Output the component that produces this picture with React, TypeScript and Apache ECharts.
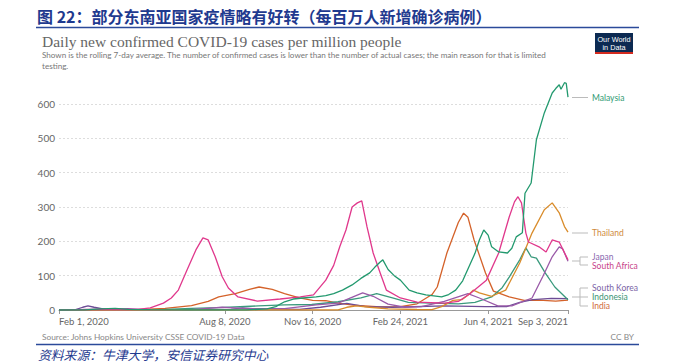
import React, { useEffect, useRef } from "react";
import * as echarts from "echarts";

// ---- data (date, cases per million, 7-day avg) ----
const malaysia: [string, number][] = [
  ["2020-02-01", 0], ["2020-03-01", 0.3], ["2020-03-20", 3], ["2020-04-05", 5], ["2020-04-20", 2],
  ["2020-05-15", 1], ["2020-07-01", 0.3], ["2020-09-01", 0.5], ["2020-09-25", 3], ["2020-10-05", 10],
  ["2020-10-15", 24], ["2020-10-25", 32], ["2020-11-05", 35], ["2020-11-20", 38], ["2020-12-01", 42],
  ["2020-12-10", 48], ["2020-12-20", 58], ["2020-12-31", 73], ["2021-01-10", 92], ["2021-01-20", 108],
  ["2021-01-26", 125], ["2021-02-01", 140], ["2021-02-04", 146], ["2021-02-10", 118], ["2021-02-17", 100],
  ["2021-02-24", 87], ["2021-03-06", 58], ["2021-03-15", 50], ["2021-03-25", 44], ["2021-04-12", 38],
  ["2021-04-20", 45], ["2021-04-28", 58], ["2021-05-06", 85], ["2021-05-13", 125], ["2021-05-20", 165],
  ["2021-05-25", 204], ["2021-05-30", 233], ["2021-06-04", 218], ["2021-06-08", 184], ["2021-06-16", 169],
  ["2021-06-26", 166], ["2021-07-01", 180], ["2021-07-06", 213], ["2021-07-13", 225], ["2021-07-16", 340],
  ["2021-07-23", 370], ["2021-07-29", 496], ["2021-08-07", 574], ["2021-08-16", 632], ["2021-08-20", 645],
  ["2021-08-24", 656], ["2021-08-26", 643], ["2021-08-30", 662], ["2021-09-01", 660], ["2021-09-03", 620],
];
const southAfrica: [string, number][] = [
  ["2020-02-01", 0], ["2020-03-20", 2], ["2020-04-15", 1.5], ["2020-05-01", 2], ["2020-05-15", 6],
  ["2020-05-30", 20], ["2020-06-08", 35], ["2020-06-16", 58], ["2020-06-26", 117], ["2020-07-06", 175],
  ["2020-07-14", 210], ["2020-07-20", 204], ["2020-07-28", 155], ["2020-08-05", 97], ["2020-08-12", 64],
  ["2020-08-23", 38], ["2020-09-14", 26], ["2020-10-10", 32], ["2020-11-02", 38], ["2020-11-17", 44],
  ["2020-12-01", 87], ["2020-12-10", 130], ["2020-12-17", 185], ["2020-12-24", 233], ["2020-12-31", 300],
  ["2021-01-06", 312], ["2021-01-11", 318], ["2021-01-17", 242], ["2021-01-24", 166], ["2021-02-01", 108],
  ["2021-02-08", 58], ["2021-02-24", 35], ["2021-03-15", 23], ["2021-04-15", 20], ["2021-05-01", 25],
  ["2021-05-15", 49], ["2021-06-02", 87], ["2021-06-16", 166], ["2021-06-28", 271], ["2021-07-04", 315],
  ["2021-07-08", 330], ["2021-07-12", 312], ["2021-07-17", 224], ["2021-07-20", 198], ["2021-08-01", 184],
  ["2021-08-09", 169], ["2021-08-16", 204], ["2021-08-24", 198], ["2021-09-03", 146],
];
const thailand: [string, number][] = [
  ["2020-02-01", 0], ["2020-04-01", 1], ["2020-05-01", 0.5], ["2020-12-15", 0.5], ["2020-12-25", 8],
  ["2021-01-05", 12], ["2021-01-20", 8], ["2021-02-10", 3], ["2021-03-15", 1.5], ["2021-04-01", 1],
  ["2021-04-12", 10], ["2021-04-25", 28], ["2021-05-05", 30], ["2021-05-13", 45], ["2021-05-18", 58],
  ["2021-05-25", 50], ["2021-06-08", 40], ["2021-06-24", 58], ["2021-07-10", 137], ["2021-07-24", 224],
  ["2021-08-07", 292], ["2021-08-16", 312], ["2021-08-24", 283], ["2021-08-30", 243], ["2021-09-03", 227],
];
const india: [string, number][] = [
  ["2020-02-01", 0], ["2020-04-01", 0.1], ["2020-05-01", 1], ["2020-06-01", 5], ["2020-07-01", 13],
  ["2020-07-20", 25], ["2020-08-01", 38], ["2020-08-20", 48], ["2020-09-05", 60], ["2020-09-16", 67],
  ["2020-10-01", 60], ["2020-10-15", 48], ["2020-11-01", 35], ["2020-11-16", 28], ["2020-12-01", 27],
  ["2020-12-15", 20], ["2021-01-01", 14], ["2021-02-01", 9], ["2021-02-24", 10], ["2021-03-15", 18],
  ["2021-04-01", 45], ["2021-04-07", 67], ["2021-04-18", 166], ["2021-05-01", 255], ["2021-05-07", 282],
  ["2021-05-12", 270], ["2021-05-19", 204], ["2021-06-01", 108], ["2021-06-10", 55], ["2021-06-28", 38],
  ["2021-07-15", 28], ["2021-08-01", 29], ["2021-08-20", 26], ["2021-09-03", 29],
];
const indonesia: [string, number][] = [
  ["2020-02-01", 0], ["2020-04-15", 1], ["2020-06-01", 2], ["2020-07-01", 5], ["2020-08-01", 7],
  ["2020-09-15", 12], ["2020-10-15", 15], ["2020-11-15", 16], ["2020-12-15", 24], ["2021-01-10", 35],
  ["2021-01-28", 48], ["2021-02-15", 35], ["2021-03-05", 22], ["2021-04-01", 20], ["2021-05-01", 18],
  ["2021-05-20", 22], ["2021-06-08", 38], ["2021-06-20", 65], ["2021-06-28", 96], ["2021-07-10", 146],
  ["2021-07-17", 181], ["2021-07-23", 155], ["2021-07-29", 151], ["2021-08-08", 108], ["2021-08-19", 67],
  ["2021-09-03", 30],
];
const japan: [string, number][] = [
  ["2020-02-01", 0], ["2020-04-10", 3], ["2020-04-20", 4], ["2020-05-15", 0.5], ["2020-07-01", 1],
  ["2020-08-05", 8], ["2020-09-01", 4], ["2020-10-15", 4], ["2020-11-20", 15], ["2020-12-15", 20],
  ["2021-01-12", 50], ["2021-01-24", 40], ["2021-02-10", 17], ["2021-03-01", 8], ["2021-03-20", 10],
  ["2021-04-15", 25], ["2021-05-12", 48], ["2021-05-25", 35], ["2021-06-15", 12], ["2021-07-01", 12],
  ["2021-07-24", 35], ["2021-08-05", 96], ["2021-08-16", 155], ["2021-08-24", 184], ["2021-08-28", 178],
  ["2021-09-03", 142],
];
const southKorea: [string, number][] = [
  ["2020-02-01", 0], ["2020-02-20", 1], ["2020-02-28", 8], ["2020-03-05", 12], ["2020-03-12", 8],
  ["2020-03-25", 2], ["2020-05-01", 0.3], ["2020-08-15", 2], ["2020-08-28", 6], ["2020-09-15", 3],
  ["2020-11-01", 2], ["2020-11-25", 8], ["2020-12-25", 19], ["2021-01-15", 10], ["2021-02-15", 8],
  ["2021-04-15", 12], ["2021-06-01", 10], ["2021-06-25", 10], ["2021-07-10", 22], ["2021-07-25", 30],
  ["2021-08-15", 34], ["2021-09-03", 33],
];

const xTickDates = ["2020-02-01", "2020-08-08", "2020-11-16", "2021-02-24", "2021-06-04", "2021-09-03"];
const yTicks = [0, 100, 200, 300, 400, 500, 600];
const months = ["Jan", "Feb", "Mar", "Apr", "May", "Jun", "Jul", "Aug", "Sep", "Oct", "Nov", "Dec"];

const seriesDefs = [
  { name: "India", data: india, color: "#d4622a" },
  { name: "South Korea", data: southKorea, color: "#6d4c96" },
  { name: "Indonesia", data: indonesia, color: "#3a9a7d" },
  { name: "Japan", data: japan, color: "#9a5aa8" },
  { name: "Thailand", data: thailand, color: "#d98c2b" },
  { name: "South Africa", data: southAfrica, color: "#e0388c" },
  { name: "Malaysia", data: malaysia, color: "#22996e" },
];

const ts = (d: string) => new Date(d + "T00:00:00Z").getTime();

export default function App() {
  const ref = useRef<HTMLDivElement>(null);
  useEffect(() => {
    if (!ref.current) return;
    const chart = echarts.init(ref.current, null, { renderer: "svg" });
    const lato = "Lato, 'Noto Sans', sans-serif";
    const cjk = "'Noto Sans CJK SC', sans-serif";
    const gray = "#bbbbbb";
    const txt = (x: number, y: number, text: string, fill: string, fontSize: number, extra: any = {}) => ({
      type: "text",
      x,
      y,
      silent: true,
      style: {
        text,
        fill,
        fontSize,
        fontFamily: lato,
        textAlign: "left",
        textVerticalAlign: "middle",
        ...extra,
      },
    });
    const ln = (x1: number, y1: number, x2: number, y2: number, stroke = gray, lineWidth = 1) => ({
      type: "line",
      silent: true,
      shape: { x1, y1, x2, y2 },
      style: { stroke, lineWidth },
    });
    const option: any = {
      animation: false,
      backgroundColor: "#ffffff",
      grid: { left: 59, right: 112, top: 104, bottom: 53, containLabel: false },
      xAxis: {
        type: "value",
        min: ts(xTickDates[0]),
        max: ts(xTickDates[xTickDates.length - 1]),
        splitLine: { show: false },
        axisLine: { show: true, lineStyle: { color: "#999999", width: 1 } },
        axisTick: {
          show: true,
          length: 4,
          lineStyle: { color: "#999999" },
          customValues: xTickDates.map(ts),
        },
        axisLabel: {
          customValues: xTickDates.map(ts),
          color: "#666666",
          fontSize: 9.5,
          fontFamily: lato,
          margin: 6,
          alignMinLabel: "left",
          alignMaxLabel: "right",
          showMinLabel: true,
          showMaxLabel: true,
          formatter: (v: number) => {
            const d = new Date(v);
            return `${months[d.getUTCMonth()]} ${d.getUTCDate()}, ${d.getUTCFullYear()}`;
          },
        },
      },
      yAxis: {
        type: "value",
        min: yTicks[0],
        max: yTicks[yTicks.length - 1],
        interval: 100,
        axisLine: { show: false },
        axisTick: { show: false },
        axisLabel: { color: "#666666", fontSize: 10, fontFamily: lato, margin: 4 },
        splitLine: { show: true, lineStyle: { color: "#dddddd", type: [2, 2], width: 1 } },
      },
      series: seriesDefs.map((s) => ({
        name: s.name,
        type: "line",
        data: s.data.map(([d, v]) => [ts(d), v]),
        showSymbol: false,
        clip: false,
        lineStyle: { color: s.color, width: 1.3 },
        itemStyle: { color: s.color },
        emphasis: { disabled: true },
      })),
      graphic: {
        elements: [
          // header
          txt(37, 16, "图 22：部分东南亚国家疫情略有好转（每百万人新增确诊病例）", "#1f3a8f", 16, {
            fontFamily: cjk,
            fontWeight: "bold",
          }),
          ln(36, 27.5, 639, 27.5, "#2b4a9a", 1.5),
          // title
          txt(42, 41, "Daily new confirmed COVID-19 cases per million people", "#666666", 15.5, {
            fontFamily: "'Liberation Serif', 'DejaVu Serif', serif",
          }),
          txt(
            42,
            55,
            "Shown is the rolling 7-day average. The number of confirmed cases is lower than the number of actual cases; the main reason for that is limited",
            "#777777",
            8.1
          ),
          txt(42, 65.5, "testing.", "#777777", 8.1),
          // logo
          { type: "rect", silent: true, shape: { x: 595, y: 33, width: 38, height: 21 }, style: { fill: "#0c2a52" } },
          { type: "rect", silent: true, shape: { x: 595, y: 52, width: 38, height: 2 }, style: { fill: "#d42b1f" } },
          txt(614, 39.5, "Our World", "#ffffff", 7.3, { textAlign: "center", fontFamily: "'Liberation Sans Narrow', 'Liberation Sans', sans-serif" }),
          txt(614, 47, "in Data", "#ffffff", 7.3, { textAlign: "center", fontFamily: "'Liberation Sans Narrow', 'Liberation Sans', sans-serif" }),
          // series labels and leader lines
          ln(572, 97.5, 588, 97.5),
          txt(592, 97.5, "Malaysia", "#2f9a74", 8.5),
          ln(572, 233, 588, 233),
          txt(592, 233, "Thailand", "#cf8a3c", 8.5),
          {
            type: "polyline",
            silent: true,
            shape: { points: [[572, 261], [580, 261]] },
            style: { stroke: gray, lineWidth: 1 },
          },
          {
            type: "polyline",
            silent: true,
            shape: { points: [[588, 257], [580, 257], [580, 265], [588, 265]] },
            style: { stroke: gray, lineWidth: 1, fill: null },
          },
          txt(592, 257, "Japan", "#8a68b0", 8.5),
          txt(592, 265.5, "South Africa", "#c83f89", 8.5),
          {
            type: "polyline",
            silent: true,
            shape: { points: [[572, 297], [588, 297]] },
            style: { stroke: gray, lineWidth: 1 },
          },
          {
            type: "polyline",
            silent: true,
            shape: { points: [[588, 288], [580, 288], [580, 306], [588, 306]] },
            style: { stroke: gray, lineWidth: 1, fill: null },
          },
          txt(592, 288, "South Korea", "#7a62a6", 8.5),
          txt(592, 297, "Indonesia", "#3b9474", 8.5),
          txt(592, 306, "India", "#d0693a", 8.5),
          // source
          txt(42, 337, "Source: Johns Hopkins University CSSE COVID-19 Data", "#888888", 8.3),
          txt(634, 337, "CC BY", "#888888", 8.3, { textAlign: "right" }),
          ln(36, 344.5, 639, 344.5, "#2b4a9a", 1.5),
          txt(38, 354, "资料来源：牛津大学，安信证券研究中心", "#1f3a8f", 12.8, {
            fontFamily: cjk,
            fontStyle: "italic",
          }),
        ],
      },
    };
    chart.setOption(option);
    return () => chart.dispose();
  }, []);
  return (
    <div
      ref={ref}
      style={{ position: "fixed", left: 0, top: 0, width: 680, height: 363, background: "#fff" }}
    />
  );
}
